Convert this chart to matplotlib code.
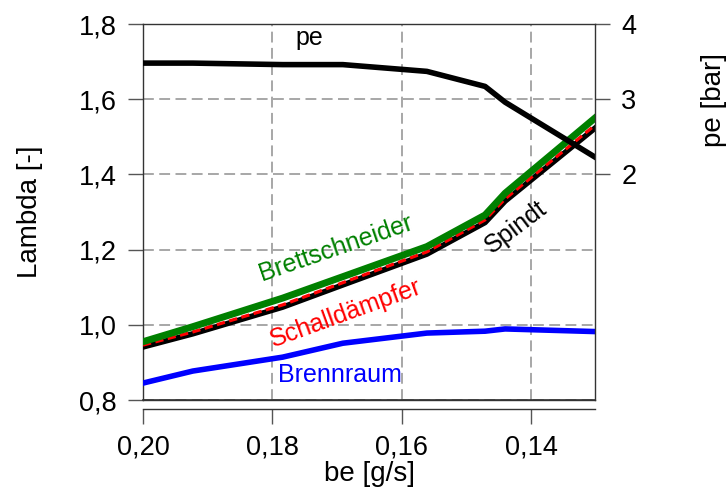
import numpy as np
import matplotlib.pyplot as plt

plt.rcParams['font.family'] = ['Liberation Sans', 'DejaVu Sans']

# Daten
be = [0.200, 0.1923, 0.1784, 0.1691, 0.1561, 0.1471, 0.1440, 0.1301]
pe = [3.48, 3.48, 3.46, 3.46, 3.37, 3.17, 2.96, 2.23]
lam_brennraum = [0.845, 0.877, 0.914, 0.951, 0.978, 0.983, 0.989, 0.982]
lam_brettschneider = [0.955, 0.995, 1.071, 1.128, 1.208, 1.292, 1.350, 1.550]
lam_schalldaempfer = [0.946, 0.981, 1.053, 1.112, 1.194, 1.279, 1.335, 1.531]
lam_spindt = [0.941, 0.976, 1.047, 1.106, 1.188, 1.272, 1.329, 1.523]

xtick_vals = [0.20, 0.18, 0.16, 0.14]
xtick_labels = ['0,20', '0,18', '0,16', '0,14']
ytick_vals = [0.8, 1.0, 1.2, 1.4, 1.6, 1.8]
ytick_labels = ['0,8', '1,0', '1,2', '1,4', '1,6', '1,8']
y2tick_vals = [2, 3, 4]

fig = plt.figure(figsize=(7.27, 4.91), dpi=100)
ax = fig.add_axes([143/727, 91/491, 452/727, 376/491])

ax.plot(be, lam_spindt, color='black', lw=4.0, zorder=3)
ax.plot(be, lam_schalldaempfer, color='#ff0000', lw=2.3, ls=(0, (2.6, 1.4)), zorder=4)
ax.plot(be, lam_brettschneider, color='#008000', lw=5.0, zorder=5)
ax.plot(be, lam_brennraum, color='#0000ff', lw=4.0, zorder=3)

ax.set_xlim(0.20, 0.1301)
ax.set_ylim(0.8, 1.8)
ax.set_xticks(xtick_vals)
ax.set_xticklabels(xtick_labels)
ax.set_yticks(ytick_vals)
ax.set_yticklabels(ytick_labels)

ax.grid(True, ls=(0, (6, 3)), color='#a0a0a0', lw=1.3)
ax.set_axisbelow(True)

for s in ax.spines.values():
    s.set_color('#333333')
    s.set_linewidth(1)
ax.spines['bottom'].set_position(('outward', 6.5))
ax.spines['right'].set_visible(False)
ax.spines['top'].set_visible(False)
# Rahmenlinie unten
ax.axhline(0.8, color='#333333', lw=1.2, zorder=10, clip_on=False)

ax.tick_params(direction='out', length=11, width=1, color='#555555', labelsize=19.5)
ax.tick_params(axis='y', pad=8)
ax.tick_params(axis='x', pad=7)

ax.set_xlabel('be [g/s]', fontsize=20, labelpad=1)
ax.set_ylabel('Lambda [-]', fontsize=20)
ax.yaxis.set_label_coords(-0.221, 0.5)

# Texte an den Kurven
ax.text(0.1743, 1.763, 'pe', fontsize=18, color='black', ha='center', va='center')
ax.text(0.1702, 1.204, 'Brettschneider', fontsize=18, color='#008000',
        ha='center', va='center', rotation=19, rotation_mode='anchor')
ax.text(0.1686, 1.031, 'Schalldämpfer', fontsize=18, color='#ff0000',
        ha='center', va='center', rotation=20, rotation_mode='anchor')
ax.text(0.1423, 1.260, 'Spindt', fontsize=18, color='black',
        ha='center', va='center', rotation=37, rotation_mode='anchor')
ax.text(0.1695, 0.866, 'Brennraum', fontsize=18, color='#0000ff',
        ha='center', va='center')

# zweite Achse: pe
ax2 = ax.twinx()
ax2.plot(be, pe, color='black', lw=4.0)
ax2.set_ylim(-1, 4)
ax2.set_yticks(y2tick_vals)
ax2.tick_params(direction='out', length=11, width=1, color='#555555', labelsize=19.5, pad=8)
for s in ax2.spines.values():
    s.set_color('#333333')
    s.set_linewidth(1)
ax2.spines['left'].set_visible(False)

fig.text(714/727, 1 - 100/491, 'pe [bar]', fontsize=20, rotation=90,
         ha='center', va='center')

plt.savefig('out.png', dpi=100)
